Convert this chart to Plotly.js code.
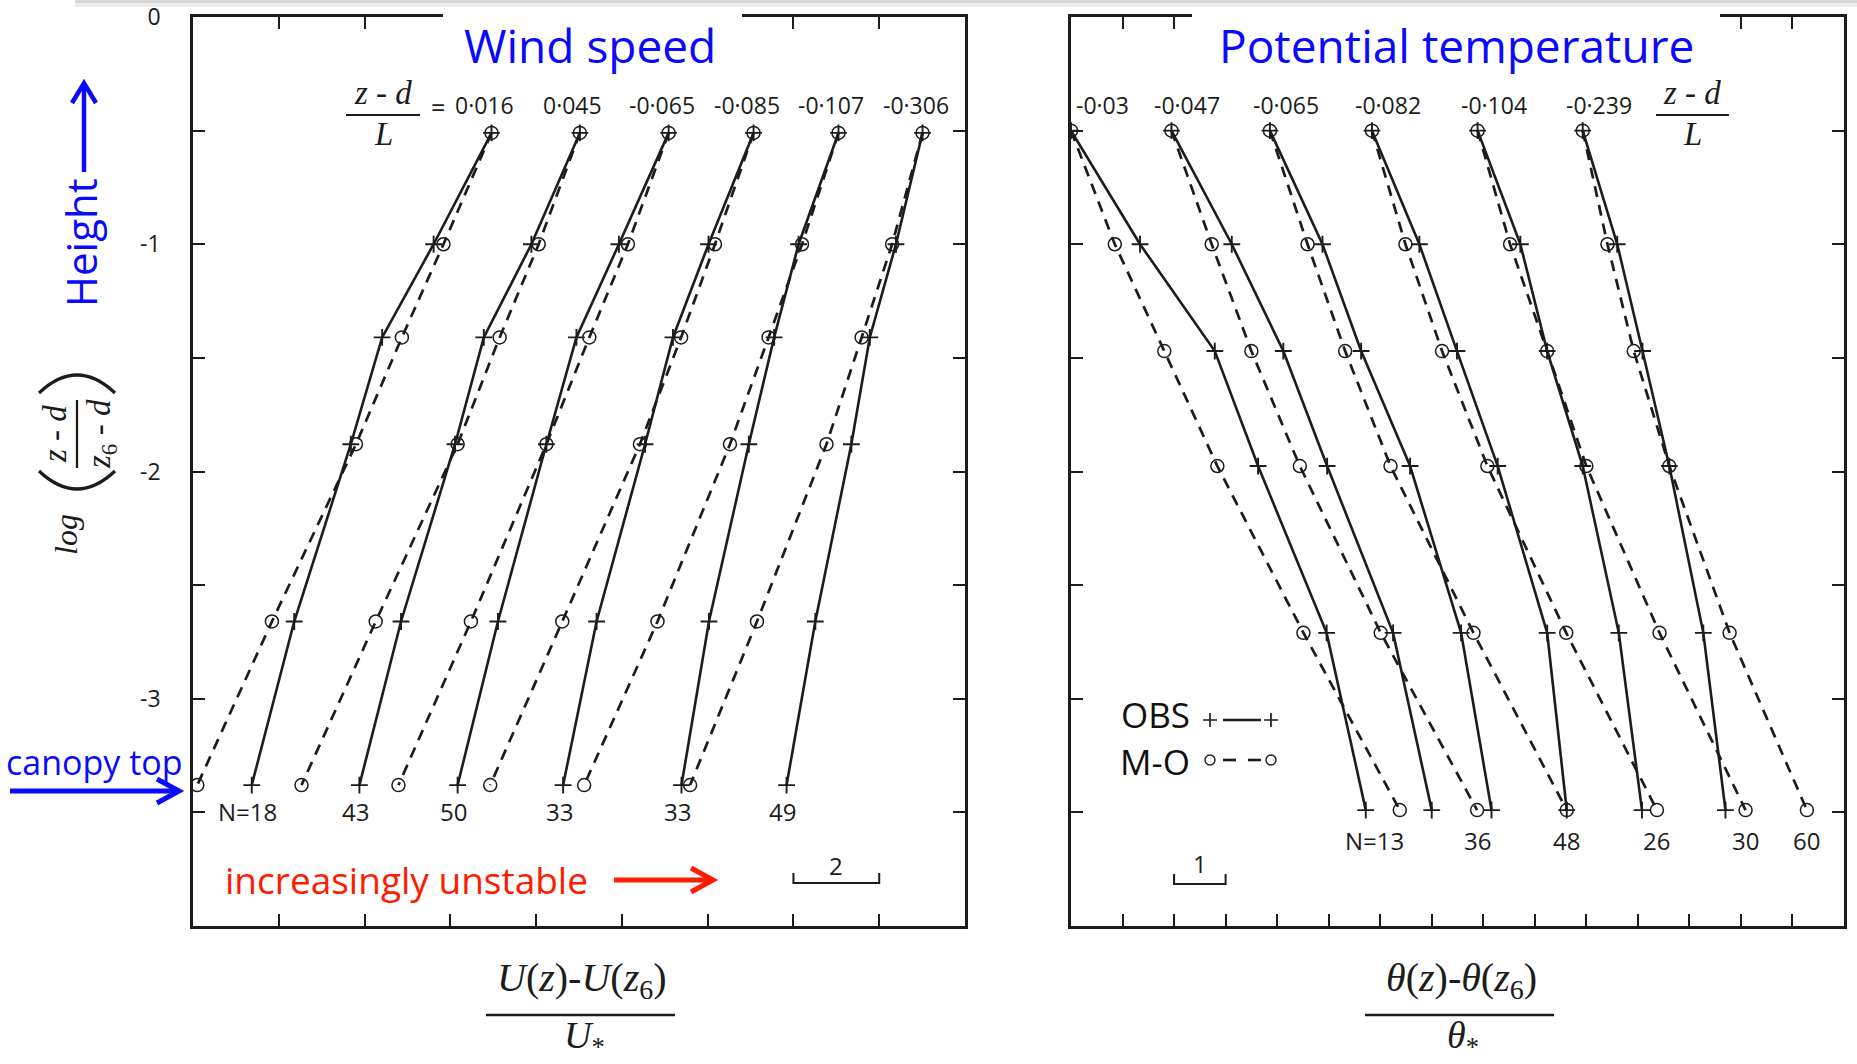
<!DOCTYPE html>
<html><head><meta charset="utf-8">
<script src="https://cdn.plot.ly/plotly-3.0.1.min.js"></script>
<style>html,body{margin:0;padding:0;background:#fff}#chart{width:1857px;height:1064px}</style>
</head><body><div id="chart"></div>
<script>
// ---------------- data ----------------
// Wind speed panel: heights (log scale units) and profiles
const windLevels = [-0.51, -1.0, -1.41, -1.88, -2.66, -3.38];
const windStability = ['0·016', '0·045', '-0·065', '-0·085', '-0·107', '-0·306'];
const windN = ['N=18', '43', '50', '33', '33', '49'];
const windObs = [
  [6.96, 5.61, 4.41, 3.68, 2.36, 1.37],
  [9.02, 7.89, 6.78, 6.11, 4.85, 3.88],
  [11.09, 9.93, 8.94, 8.24, 7.11, 6.17],
  [13.07, 12.02, 11.19, 10.54, 9.41, 8.63],
  [15.05, 14.12, 13.55, 12.96, 12.03, 11.39],
  [17.01, 16.39, 15.78, 15.35, 14.51, 13.84]
];
const windMO = [
  [6.96, 5.84, 4.87, 3.80, 1.84, 0.10],
  [9.02, 8.06, 7.15, 6.17, 4.26, 2.53],
  [11.09, 10.14, 9.24, 8.24, 6.48, 4.79],
  [13.07, 12.17, 11.38, 10.42, 8.61, 6.93],
  [15.05, 14.20, 13.42, 12.52, 10.83, 9.12],
  [17.01, 16.30, 15.59, 14.77, 13.15, 11.59]
];
// Potential temperature panel
const thetaLevels = [-0.5, -1.0, -1.47, -1.976, -2.71, -3.49];
const thetaStability = ['-0·03', '-0·047', '-0·065', '-0·082', '-0·104', '-0·239'];
const thetaN = ['N=13', '36', '48', '26', '30', '60'];
const thetaObs = [
  [0.0, 1.34, 2.79, 3.63, 4.96, 5.72],
  [1.95, 3.12, 4.12, 4.97, 6.25, 7.00],
  [3.86, 4.88, 5.63, 6.58, 7.57, 8.16],
  [5.84, 6.76, 7.49, 8.28, 9.24, 9.62],
  [7.89, 8.72, 9.24, 9.93, 10.63, 11.08],
  [9.93, 10.60, 11.09, 11.61, 12.27, 12.70]
];
const thetaMO = [
  [0.0, 0.85, 1.81, 2.84, 4.51, 6.38],
  [1.95, 2.73, 3.50, 4.44, 6.01, 7.88],
  [3.86, 4.59, 5.32, 6.20, 7.81, 9.62],
  [5.84, 6.49, 7.20, 8.08, 9.61, 11.37],
  [7.89, 8.52, 9.24, 10.00, 11.42, 13.09],
  [9.93, 10.41, 10.92, 11.61, 12.78, 14.28]
];
// axis ticks
const yTickVals = [0, -0.5, -1, -1.5, -2, -2.5, -3, -3.5, -4];
const yTickText = ['0', '', '-1', '', '-2', '', '-3', '', ''];
const windScaleBar = [14, 16];   // "2" units
const thetaScaleBar = [2, 3];    // "1" unit

// ---------------- styling ----------------
const W = 1857, H = 1064;
const INK = '#1c1c1c';
const SANS = 'Open Sans, sans-serif';
const SERIF = 'Liberation Serif, DejaVu Serif, serif';
const BLUE = '#0a0aff';
const RED = '#ff1a00';
const px = (a, b) => [a / W, b / W];
const yDom = [1 - 926 / H, 1 - 17 / H];

const traces = [];
function addProfiles(obs, mo, levels, xa, ya) {
  for (let i = 0; i < obs.length; i++) {
    traces.push({
      x: mo[i], y: levels, xaxis: xa, yaxis: ya, type: 'scatter', mode: 'lines+markers',
      line: {color: INK, width: 2.7, dash: '11px,8px'},
      marker: {symbol: 'circle-open', size: 13, color: INK, line: {width: 1.5, color: INK}},
      hoverinfo: 'skip', showlegend: false
    });
    traces.push({
      x: obs[i], y: levels, xaxis: xa, yaxis: ya, type: 'scatter', mode: 'lines+markers',
      line: {color: INK, width: 2.6},
      marker: {symbol: 'cross-thin-open', size: 12, color: INK, line: {width: 1.9, color: INK}},
      hoverinfo: 'skip', showlegend: false
    });
  }
}
addProfiles(windObs, windMO, windLevels, 'x', 'y');
addProfiles(thetaObs, thetaMO, thetaLevels, 'x2', 'y2');

// legend key markers (pixel overlay axes)
traces.push({x: [1210, 1271], y: [720, 720], xaxis: 'x3', yaxis: 'y3', mode: 'markers', type: 'scatter',
  marker: {symbol: 'cross-thin-open', size: 10, color: INK, line: {width: 1.7, color: INK}}, hoverinfo: 'skip', showlegend: false});
traces.push({x: [1210, 1271], y: [760, 760], xaxis: 'x3', yaxis: 'y3', mode: 'markers', type: 'scatter',
  marker: {symbol: 'circle-open', size: 10, color: INK, line: {width: 1.4, color: INK}}, hoverinfo: 'skip', showlegend: false});

// ---------------- annotations ----------------
const ann = [];
function A(text, x, y, o) {
  ann.push(Object.assign({text: text, x: x, y: y, xref: 'x3', yref: 'y3', showarrow: false,
    xanchor: 'center', yanchor: 'middle', font: {family: SANS, size: 22, color: INK}}, o || {}));
}
// titles
A('Wind speed', 590, 45, {font: {family: SANS, size: 46, color: BLUE}});
A('Potential temperature', 1456, 45, {font: {family: SANS, size: 46, color: BLUE}});
// stability labels
windStability.forEach((t, i) => A(t, windObs[i][0], 105, {xref: 'x', xshift: -7, font: {family: SANS, size: 23, color: INK}}));
thetaStability.forEach((t, i) => {
  if (i === 0) A(t, thetaObs[i][0], 105, {xref: 'x2', xanchor: 'left', xshift: 3, font: {family: SANS, size: 23, color: INK}});
  else A(t, thetaObs[i][0], 105, {xref: 'x2', xshift: 16, font: {family: SANS, size: 23, color: INK}});
});
// z-d / L fractions
A('<i>z</i> - <i>d</i>', 383, 93, {font: {family: SERIF, size: 33, color: INK}});
A('<i>L</i>', 383, 134, {font: {family: SERIF, size: 33, color: INK}});
A('=', 438, 107, {font: {family: SANS, size: 25, color: INK}});
A('<i>z</i> - <i>d</i>', 1692, 93, {font: {family: SERIF, size: 33, color: INK}});
A('<i>L</i>', 1692, 134, {font: {family: SERIF, size: 33, color: INK}});
// N labels
windN.forEach((t, i) => A(t, windObs[i][5], 811, {xref: 'x', xshift: -4, font: {family: SANS, size: 24, color: INK}}));
thetaN.forEach((t, i) => {
  if (i === 0) A(t, thetaMO[i][5], 840, {xref: 'x2', xanchor: 'right', xshift: 6, font: {family: SANS, size: 24, color: INK}});
  else A(t, thetaMO[i][5], 840, {xref: 'x2', font: {family: SANS, size: 24, color: INK}});
});
// scale bar labels
A('2', (windScaleBar[0] + windScaleBar[1]) / 2, 865, {xref: 'x', font: {family: SANS, size: 24, color: INK}});
A('1', (thetaScaleBar[0] + thetaScaleBar[1]) / 2, 863, {xref: 'x2', font: {family: SANS, size: 24, color: INK}});
// legend text
A('OBS', 1192, 714, {xanchor: 'right', font: {family: SANS, size: 35, color: '#111'}});
A('M-O', 1192, 761, {xanchor: 'right', font: {family: SANS, size: 35, color: '#111'}});
// increasingly unstable
A('increasingly unstable', 223, 879, {xanchor: 'left', font: {family: SANS, size: 37, color: RED}});
// Height & canopy top
A('Height', 80, 243, {textangle: -90, font: {family: SANS, size: 42, color: BLUE}});
A('canopy top', 94, 762, {font: {family: SANS, size: 34, color: BLUE}});
// y-axis tick labels are on the axis; y-axis title pieces
A('<i>log</i>', 66, 535, {textangle: -90, font: {family: SERIF, size: 32, color: INK}});
A('<i>z</i> - <i>d</i>', 55, 434, {textangle: -90, font: {family: SERIF, size: 33, color: INK}});
A('<i>z</i><sub>6</sub> - <i>d</i>', 101, 434, {textangle: -90, font: {family: SERIF, size: 33, color: INK}});
// x-axis titles
A('<i>U</i>(<i>z</i>)-<i>U</i>(<i>z</i><sub>6</sub>)', 582, 980, {font: {family: SERIF, size: 40, color: INK}});
A('<i>U</i><sub>*</sub>', 584, 1038, {font: {family: SERIF, size: 38, color: INK}});
A('<i>θ</i>(<i>z</i>)-<i>θ</i>(<i>z</i><sub>6</sub>)', 1461, 980, {font: {family: SERIF, size: 40, color: INK}});
A('<i>θ</i><sub>*</sub>', 1463, 1038, {font: {family: SERIF, size: 38, color: INK}});

// ---------------- shapes ----------------
const shp = [];
function L(x0, y0, x1, y1, color, width, o) {
  shp.push(Object.assign({type: 'line', xref: 'x3', yref: 'y3', x0: x0, y0: y0, x1: x1, y1: y1,
    line: {color: color, width: width}, layer: 'above'}, o || {}));
}
function P(path, color, width) {
  shp.push({type: 'path', xref: 'x3', yref: 'y3', path: path, line: {color: color, width: width}, layer: 'above'});
}
// top shadow
shp.push({type: 'rect', xref: 'x3', yref: 'y3', x0: 75, x1: 1857, y0: 0, y1: 3, fillcolor: '#d6d6d6', line: {width: 0}, layer: 'below'});
shp.push({type: 'rect', xref: 'x3', yref: 'y3', x0: 75, x1: 1857, y0: 3, y1: 7, fillcolor: '#ececec', line: {width: 0}, layer: 'below'});
// gaps in top frame for titles
shp.push({type: 'rect', xref: 'x3', yref: 'y3', x0: 443, x1: 742, y0: 9, y1: 33, fillcolor: '#ffffff', line: {width: 0}, layer: 'above'});
shp.push({type: 'rect', xref: 'x3', yref: 'y3', x0: 1192, x1: 1720, y0: 9, y1: 33, fillcolor: '#ffffff', line: {width: 0}, layer: 'above'});
// fraction lines
L(346, 115, 420, 115, INK, 2);
L(1656, 115, 1729, 115, INK, 2);
L(486, 1015, 675, 1015, INK, 2.5);
L(1365, 1015, 1554, 1015, INK, 2.5);
L(77, 400, 77, 468, INK, 2.3);
// big parentheses of y title
P('M 39,393 Q 77,357 115,393', INK, 3.2);
P('M 39,471 Q 77,507 115,471', INK, 3.2);
// legend key lines
L(1223, 720, 1261, 720, INK, 2.6);
L(1223, 760, 1236, 760, INK, 2.6);
L(1248, 760, 1261, 760, INK, 2.6);
// scale bars (in data units along x)
shp.push({type: 'path', xref: 'x', yref: 'y3', layer: 'above', line: {color: INK, width: 2},
  path: `M ${windScaleBar[0]},873 L ${windScaleBar[0]},883 L ${windScaleBar[1]},883 L ${windScaleBar[1]},873`});
shp.push({type: 'path', xref: 'x2', yref: 'y3', layer: 'above', line: {color: INK, width: 2},
  path: `M ${thetaScaleBar[0]},874 L ${thetaScaleBar[0]},884 L ${thetaScaleBar[1]},884 L ${thetaScaleBar[1]},874`});
// arrows
L(84, 172, 84, 84, BLUE, 4.5);
P('M 72,103 L 84,83 L 96,103', BLUE, 4.5);
L(10, 791, 177, 791, BLUE, 5);
P('M 157,779 L 179,791 L 157,803', BLUE, 5);
L(614, 880, 711, 880, RED, 5);
P('M 691,868 L 713,880 L 691,892', RED, 5);

// ---------------- layout ----------------
const axLine = {showline: true, mirror: 'ticks', linecolor: INK, linewidth: 2.8, ticks: 'inside', ticklen: 12,
  tickwidth: 2, tickcolor: INK, showgrid: false, zeroline: false, fixedrange: true};
const layout = {
  width: W, height: H, margin: {l: 0, r: 0, t: 0, b: 0},
  paper_bgcolor: '#ffffff', plot_bgcolor: 'rgba(0,0,0,0)', showlegend: false,
  xaxis: Object.assign({}, axLine, {domain: px(193, 965), range: [0, 18], tickmode: 'linear', tick0: 0, dtick: 2,
    showticklabels: false, anchor: 'y'}),
  yaxis: Object.assign({}, axLine, {domain: yDom, range: [-4, 0], tickmode: 'array', tickvals: yTickVals,
    ticktext: yTickText, showticklabels: true, tickfont: {family: SANS, size: 23, color: INK},
    ticklabelstandoff: 25, ticklabeloverflow: 'allow', anchor: 'x'}),
  xaxis2: Object.assign({}, axLine, {domain: px(1071, 1844), range: [0, 15], tickmode: 'linear', tick0: 0, dtick: 1,
    showticklabels: false, anchor: 'y2'}),
  yaxis2: Object.assign({}, axLine, {domain: yDom, range: [-4, 0], tickmode: 'array', tickvals: yTickVals,
    ticktext: yTickText, showticklabels: false, anchor: 'x2'}),
  xaxis3: {domain: [0, 1], range: [0, W], visible: false, fixedrange: true, anchor: 'y3'},
  yaxis3: {domain: [0, 1], range: [H, 0], visible: false, fixedrange: true, anchor: 'x3'},
  annotations: ann,
  shapes: shp
};
Plotly.newPlot('chart', traces, layout, {staticPlot: true, displayModeBar: false});
</script></body></html>
